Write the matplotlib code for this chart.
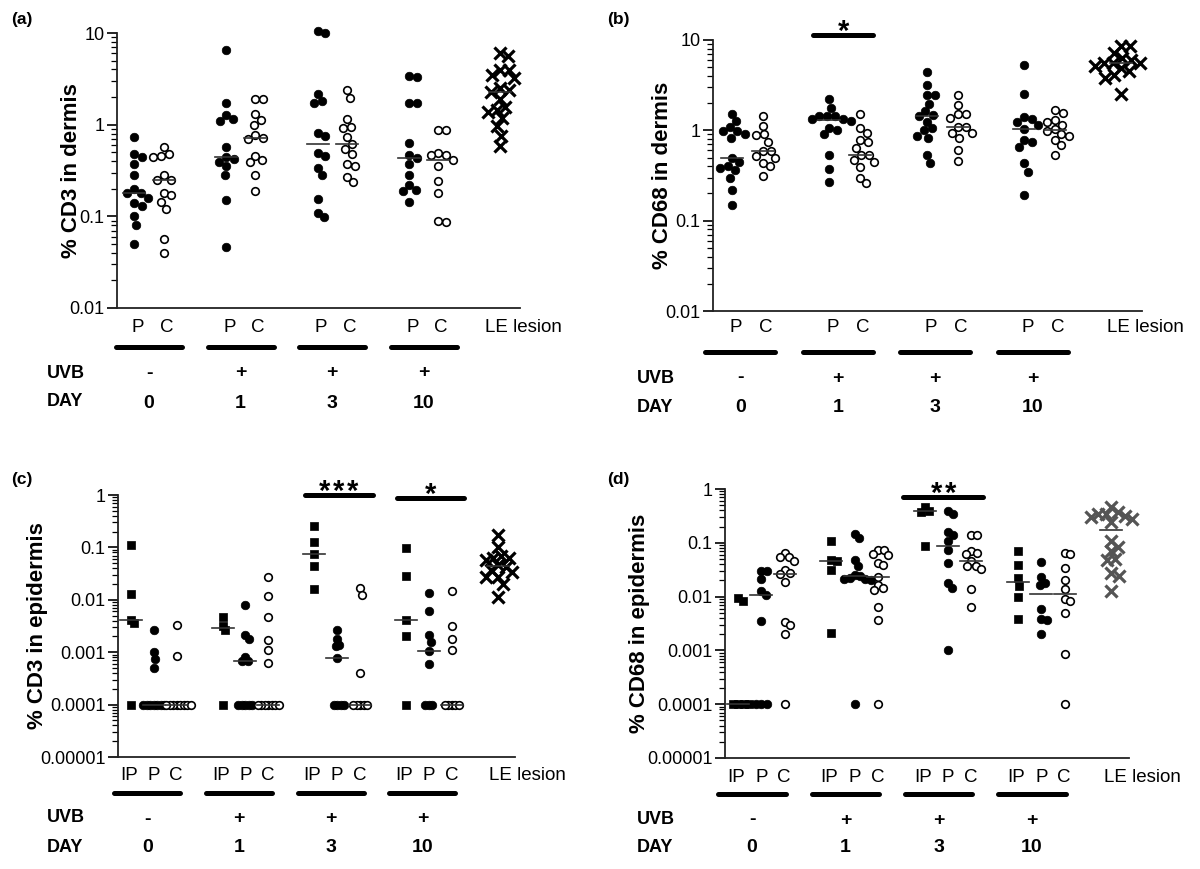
import numpy as np
import matplotlib.pyplot as plt
from matplotlib.ticker import LogLocator, NullFormatter, FixedLocator, FixedFormatter
from matplotlib.transforms import blended_transform_factory, offset_copy

plt.rcParams['font.family'] = ['Liberation Sans', 'DejaVu Sans']

# -----------------------------------
# Data
# -----------------------------------
days = ['0', '1', '3', '10']
uvb = ['-', '+', '+', '+']

# (a) % CD3 in dermis, P = filled, C = open, per day
a_p = [
    [0.73, 0.48, 0.44, 0.37, 0.28, 0.20, 0.18, 0.18, 0.16, 0.14, 0.13, 0.10, 0.08, 0.05],
    [6.6, 1.73, 1.29, 1.16, 1.11, 0.57, 0.44, 0.42, 0.39, 0.35, 0.28, 0.15, 0.046],
    [10.5, 9.9, 2.18, 1.8, 1.73, 0.82, 0.75, 0.49, 0.45, 0.34, 0.28, 0.154, 0.11, 0.098],
    [3.4, 3.27, 1.73, 1.73, 0.63, 0.47, 0.435, 0.37, 0.28, 0.22, 0.196, 0.19, 0.145],
]
a_c = [
    [0.57, 0.48, 0.46, 0.44, 0.28, 0.25, 0.25, 0.18, 0.17, 0.145, 0.12, 0.056, 0.04],
    [1.9, 1.9, 1.32, 1.13, 1.0, 0.78, 0.72, 0.70, 0.46, 0.41, 0.39, 0.28, 0.19],
    [2.4, 1.96, 1.14, 0.94, 0.93, 0.73, 0.61, 0.54, 0.48, 0.37, 0.355, 0.27, 0.235],
    [0.88, 0.88, 0.49, 0.47, 0.47, 0.41, 0.35, 0.24, 0.18, 0.088, 0.086],
]
a_le = [6.1, 5.6, 3.9, 3.9, 3.5, 3.2, 2.5, 2.4, 2.3, 1.9, 1.56, 1.44, 1.38, 1.18, 0.96, 0.76, 0.58]

# (b) % CD68 in dermis
b_p = [
    [1.53, 1.27, 1.10, 0.98, 0.98, 0.92, 0.83, 0.49, 0.45, 0.40, 0.38, 0.36, 0.30, 0.22, 0.15],
    [2.23, 1.78, 1.44, 1.44, 1.44, 1.32, 1.32, 1.27, 1.07, 1.0, 0.9, 0.54, 0.37, 0.27],
    [4.4, 3.16, 2.45, 2.45, 1.98, 1.63, 1.48, 1.44, 1.24, 1.05, 1.0, 0.87, 0.82, 0.54, 0.44],
    [5.35, 2.5, 1.41, 1.34, 1.24, 1.14, 1.04, 0.78, 0.74, 0.65, 0.43, 0.35, 0.19],
]
b_c = [
    [1.44, 1.13, 0.90, 0.88, 0.74, 0.59, 0.59, 0.52, 0.49, 0.44, 0.40, 0.31],
    [1.53, 1.07, 0.94, 0.78, 0.74, 0.64, 0.53, 0.53, 0.47, 0.45, 0.39, 0.30, 0.26],
    [2.45, 1.9, 1.5, 1.5, 1.36, 1.1, 1.1, 0.94, 0.94, 0.83, 0.6, 0.46],
    [1.67, 1.54, 1.3, 1.25, 1.14, 1.03, 0.98, 0.9, 0.87, 0.78, 0.68, 0.54],
]
b_le = [8.66, 8.66, 7.2, 6.3, 6.0, 5.6, 5.6, 5.6, 5.1, 4.9, 4.5, 4.1, 3.8, 2.5]

# (c) % CD3 in epidermis, IP = squares
c_ip = [
    [0.11, 0.013, 0.0042, 0.0036, 0.0001],
    [0.0047, 0.0032, 0.0026, 0.0001],
    [0.256, 0.128, 0.075, 0.045, 0.0158],
    [0.097, 0.029, 0.0041, 0.0020, 0.0001],
]
c_p = [
    [0.0026, 0.001, 0.00074, 0.00049, 0.0001, 0.0001, 0.0001, 0.0001, 0.0001, 0.0001, 0.0001],
    [0.0079, 0.0021, 0.0018, 0.0008, 0.00068, 0.00068, 0.0001, 0.0001, 0.0001, 0.0001, 0.0001],
    [0.0026, 0.0018, 0.0014, 0.0013, 0.00079, 0.0001, 0.0001, 0.0001, 0.0001],
    [0.0132, 0.0061, 0.0021, 0.0016, 0.00107, 0.00059, 0.0001, 0.0001, 0.0001],
]
c_c = [
    [0.0033, 0.00086, 0.0001, 0.0001, 0.0001, 0.0001, 0.0001, 0.0001, 0.0001, 0.0001],
    [0.0267, 0.0117, 0.0046, 0.0017, 0.0011, 0.00063, 0.0001, 0.0001, 0.0001, 0.0001, 0.0001, 0.0001, 0.0001],
    [0.017, 0.0126, 0.0004, 0.0001, 0.0001, 0.0001, 0.0001, 0.0001],
    [0.0148, 0.0032, 0.0018, 0.0011, 0.0001, 0.0001, 0.0001, 0.0001, 0.0001],
]
c_le = [0.172, 0.10, 0.07, 0.064, 0.064, 0.057, 0.046, 0.043, 0.037, 0.034, 0.027, 0.027, 0.020, 0.0114]

# (d) % CD68 in epidermis
d_ip = [
    [0.0095, 0.0083, 0.0001, 0.0001, 0.0001, 0.0001],
    [0.11, 0.048, 0.046, 0.031, 0.0021],
    [0.47, 0.39, 0.38, 0.088],
    [0.069, 0.038, 0.022, 0.016, 0.0098, 0.0038],
]
d_p = [
    [0.030, 0.030, 0.021, 0.0128, 0.0107, 0.0035, 0.0001, 0.0001, 0.0001],
    [0.148, 0.122, 0.048, 0.037, 0.025, 0.024, 0.022, 0.021, 0.021, 0.020, 0.0001],
    [0.39, 0.34, 0.16, 0.14, 0.106, 0.072, 0.043, 0.018, 0.0144, 0.001],
    [0.044, 0.023, 0.018, 0.0165, 0.006, 0.0038, 0.0036, 0.002],
]
d_c = [
    [0.064, 0.054, 0.054, 0.046, 0.031, 0.027, 0.026, 0.019, 0.0034, 0.0030, 0.0020, 0.0001],
    [0.072, 0.072, 0.061, 0.06, 0.042, 0.039, 0.023, 0.0165, 0.0144, 0.0134, 0.0065, 0.0037, 0.0001],
    [0.14, 0.14, 0.069, 0.066, 0.062, 0.045, 0.037, 0.037, 0.033, 0.014, 0.0065],
    [0.066, 0.061, 0.034, 0.020, 0.0137, 0.0089, 0.0083, 0.005, 0.00087, 0.0001],
]
d_le = [0.47, 0.37, 0.35, 0.34, 0.32, 0.30, 0.28, 0.24, 0.106, 0.085, 0.07, 0.05, 0.048, 0.028, 0.024, 0.0128]

dermis_ticks = [0.01, 0.1, 1, 10]
dermis_labels = ['0.01', '0.1', '1', '10']
epi_ticks = [1e-5, 1e-4, 1e-3, 1e-2, 1e-1, 1]
epi_labels = ['0.00001', '0.0001', '0.001', '0.01', '0.1', '1']

# -----------------------------------
# Figure
# -----------------------------------
W, H = 1200, 869
fig = plt.figure(figsize=(W / 100, H / 100), dpi=100)

STYLE = {
    'filled': dict(marker='o', s=38, facecolor='black', edgecolor='black', linewidths=0.5),
    'open': dict(marker='o', s=30, facecolor='white', edgecolor='black', linewidths=1.2),
    'square': dict(marker='s', s=34, facecolor='black', edgecolor='black', linewidths=0.5),
    'cross': dict(marker='x', s=75, linewidths=2.3),
}


def px_rect(l, t, r, b):
    return [l / W, 1 - b / H, (r - l) / W, (b - t) / H]


def setup(rect, ylim, ticks, ticklabels, ylabel, xlim, lab_x):
    ax = fig.add_axes(rect)
    ax.set_yscale('log')
    ax.set_xlim(xlim)
    ax.set_ylim(ylim)
    for s in ['top', 'right']:
        ax.spines[s].set_visible(False)
    for s in ['left', 'bottom']:
        ax.spines[s].set_linewidth(1.3)
        ax.spines[s].set_color('#222222')
    ax.set_xticks([])
    ax.yaxis.set_major_locator(FixedLocator(ticks))
    ax.yaxis.set_major_formatter(FixedFormatter(ticklabels))
    ax.yaxis.set_minor_locator(LogLocator(base=10, subs=np.arange(2, 10), numticks=30))
    ax.yaxis.set_minor_formatter(NullFormatter())
    ax.tick_params(axis='y', which='major', length=7, width=1.2, labelsize=13, pad=2)
    ax.tick_params(axis='y', which='minor', length=4, width=0.9)
    ax.set_ylabel(ylabel, fontsize=16, fontweight='bold')
    ax.yaxis.set_label_coords(lab_x, 0.5)
    return ax


def swarm(ax, x, vals, sx, sy):
    # simple beeswarm in pixel space
    vals = np.asarray(vals, float)
    ypx = ax.transData.transform(np.column_stack([np.full(len(vals), x), vals]))[:, 1]
    ppu = ax.transData.transform([(1, 1)])[0, 0] - ax.transData.transform([(0, 1)])[0, 0]
    offs = np.zeros(len(vals))
    placed = []
    for i in np.argsort(-vals, kind='stable'):
        near = [(o, y) for o, y in placed if abs(y - ypx[i]) < sy]
        cands = [0.0]
        for o, y in near:
            w = sx * np.sqrt(1 - ((y - ypx[i]) / sy) ** 2)
            cands += [o + w, o - w]
        cands.sort(key=lambda c: (round(abs(c), 3), -c))
        for c in cands:
            if all(((c - o) / sx) ** 2 + ((y - ypx[i]) / sy) ** 2 >= 0.999 for o, y in near):
                break
        offs[i] = c
        placed.append((c, ypx[i]))
    return x + offs / ppu, ppu


def column(ax, x, vals, kind, sx, sy, color='black'):
    xs, ppu = swarm(ax, x, vals, sx, sy)
    st = dict(STYLE[kind])
    if kind == 'cross':
        st['color'] = color
    ax.scatter(xs, vals, zorder=3, clip_on=False, **st)
    med = np.median(vals)
    hw = 11 / ppu
    ax.plot([x - hw, x + hw], [med, med], color='#333333', lw=1.2, zorder=4)


def below(ax, x, dy, text, **kw):
    ax.annotate(text, xy=(x, 0), xycoords=('data', 'axes fraction'),
                xytext=(0, -dy), textcoords='offset pixels',
                ha='center', va='center', annotation_clip=False, **kw)


def bar_below(ax, xc, hw, dy):
    tr = offset_copy(blended_transform_factory(ax.transData, ax.transAxes),
                     fig=fig, x=0, y=-dy, units='dots')
    ax.plot([xc - hw, xc + hw], [0, 0], transform=tr, color='black', lw=3.6,
            solid_capstyle='round', clip_on=False)


def signif(ax, x0, x1, yf, n):
    tr = blended_transform_factory(ax.transData, ax.transAxes)
    ax.plot([x0, x1], [yf, yf], transform=tr, color='black', lw=3.6,
            solid_capstyle='round', clip_on=False)
    for k in range(n):
        ax.annotate('*', xy=((x0 + x1) / 2, yf), xycoords=tr,
                    xytext=((k - (n - 1) / 2) * 14, -5), textcoords='offset pixels',
                    ha='center', va='baseline', fontsize=21, fontweight='bold',
                    annotation_clip=False)


# -----------------------------------
# Dermis panels (a), (b)
# -----------------------------------
ax_a = setup(px_rect(117, 33, 520, 308), (0.01, 10), dermis_ticks, dermis_labels,
             '% CD3 in dermis', (-0.35, 4.05), -0.087)
ax_b = setup(px_rect(713, 40, 1142, 311), (0.01, 10), dermis_ticks, dermis_labels,
             '% CD68 in dermis', (-0.35, 4.05), -0.093)

for ax, p, c, le, gshift, rows in [(ax_a, a_p, a_c, a_le, 0.0, (20, 39, 65, 95)),
                                   (ax_b, b_p, b_c, b_le, -0.07, (17, 41, 67, 96))]:
    for g in range(4):
        column(ax, g - 0.16, p[g], 'filled', 8.0, 9.0)
        column(ax, g + 0.16, c[g], 'open', 8.0, 9.0)
        below(ax, g - 0.12, rows[0], 'P', fontsize=13.5)
        below(ax, g + 0.19, rows[0], 'C', fontsize=13.5)
        bar_below(ax, g + gshift, 0.36, rows[1])
        below(ax, g + gshift, rows[2], uvb[g], fontsize=14, fontweight='bold')
        below(ax, g + gshift, rows[3], days[g], fontsize=14, fontweight='bold')
    column(ax, 3.83, le, 'cross', 9.0, 10.0)
    below(ax, 4.09, rows[0], 'LE lesion', fontsize=13.5)

signif(ax_b, 0.68, 1.29, 1.018, 1)

# -----------------------------------
# Epidermis panels (c), (d)
# -----------------------------------
ax_c = setup(px_rect(118, 495, 515, 757), (1e-5, 1), epi_ticks, epi_labels,
             '% CD3 in epidermis', (-0.39, 3.94), -0.176)
ax_d = setup(px_rect(725, 489, 1129, 758), (1e-5, 1), epi_ticks, epi_labels,
             '% CD68 in epidermis', (-0.39, 3.94), -0.186)

for ax, ip, p, c, le, gshift, le_col, sx in [(ax_c, c_ip, c_p, c_c, c_le, -0.07, 'black', 3.5),
                                             (ax_d, d_ip, d_p, d_c, d_le, -0.10, '#555555', 5.5)]:
    rows = (19, 36, 62, 90)
    for g in range(4):
        column(ax, g - 0.25, ip[g], 'square', sx, 7.5)
        column(ax, g, p[g], 'filled', sx, 7.5)
        column(ax, g + 0.25, c[g], 'open', sx, 7.5)
        below(ax, g - 0.27, rows[0], 'IP', fontsize=13.5)
        below(ax, g, rows[0], 'P', fontsize=13.5)
        below(ax, g + 0.245, rows[0], 'C', fontsize=13.5)
        bar_below(ax, g + gshift, 0.36, rows[1])
        below(ax, g + gshift, rows[2], uvb[g], fontsize=14, fontweight='bold')
        below(ax, g + gshift, rows[3], days[g], fontsize=14, fontweight='bold')
    column(ax, 3.75, le, 'cross', 8.0, 9.0, color=le_col)
    below(ax, 4.08, rows[0], 'LE lesion', fontsize=13.5)

signif(ax_c, 1.65, 2.39, 1.0, 3)
signif(ax_d, 1.52, 2.38, 0.97, 2)
signif(ax_c, 2.65, 3.38, 0.99, 1)

# -----------------------------------
# Row titles and panel letters
# -----------------------------------
for x, y0 in [(47, 373), (637, 378), (47, 818), (637, 819)]:
    fig.text(x / W, 1 - y0 / H, 'UVB', ha='left', va='center', fontsize=13, fontweight='bold')
    fig.text(x / W, 1 - (y0 + 29) / H, 'DAY', ha='left', va='center', fontsize=13, fontweight='bold')

for x, y, t in [(11, 12, '(a)'), (607, 12, '(b)'), (11, 472, '(c)'), (607, 472, '(d)')]:
    fig.text(x / W, 1 - y / H, t, ha='left', va='top', fontsize=12.5, fontweight='bold')

fig.savefig('out.png', dpi=100)
